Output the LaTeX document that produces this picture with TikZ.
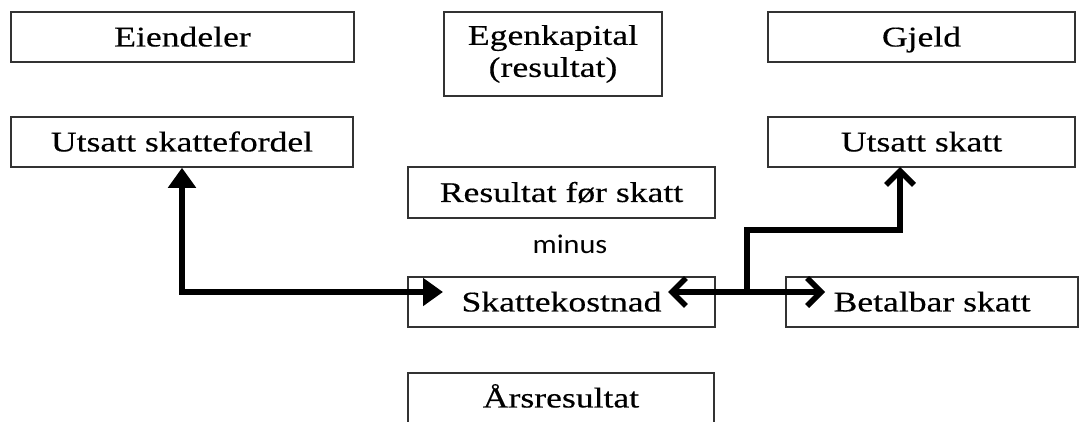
\documentclass[tikz,border=0pt]{standalone}
\usepackage{fontspec}
\setmainfont[FakeStretch=1.25,FakeBold=0.4]{Liberation Serif}
\newfontfamily\minusfont[FakeStretch=1.12]{Carlito}
\usetikzlibrary{arrows.meta}

\begin{document}
\begin{tikzpicture}[x=1pt, y=-1pt,
  box/.style={draw=black!80, line width=1.5pt, rectangle, inner sep=0pt,
    minimum height=50pt, font=\fontsize{28.5}{32}\selectfont,
    text height=18.9pt, text depth=0pt},
  twoline/.style={text height=, text depth=, align=center},
  conn/.style={line width=5.5pt, black, line join=miter},
  solidtip/.style={{Triangle[length=20pt,width=27pt]}-{Triangle[length=20pt,width=27pt]}},
  barbtip/.style={-{Straight Barb[length=14pt,width=28pt]}},
  barbboth/.style={{Straight Barb[length=14pt,width=28pt]}-{Straight Barb[length=14pt,width=28pt]}},
]
\useasboundingbox (0,0) rectangle (1087,421);
\clip (0,0) rectangle (1087,421);

% balance sheet headings
\node[box, minimum width=343pt] (eiend) at (182.5,37) {Eiendeler};
\node[box, twoline, minimum width=218pt, minimum height=84pt] (egenk) at (553,54) {Egenkapital\\(resultat)};
\node[box, minimum width=307pt] (gjeld) at (921.5,37) {Gjeld};

% deferred tax items
\node[box, minimum width=342pt] (usf) at (182,142) {Utsatt skattefordel};
\node[box, minimum width=307pt] (us) at (921.5,142) {Utsatt skatt};

% income statement column
\node[box, minimum width=307pt, minimum height=51pt] (rfs) at (561.5,192.5) {Resultat før skatt};
\node[font=\minusfont\fontsize{27}{30}\selectfont, inner sep=0pt] (minus) at (570,244) {minus};
\node[box, minimum width=307pt] (sk) at (561.5,302) {Skattekostnad};
\node[box, minimum width=292pt] (bb) at (932,302) {Betalbar skatt};
\node[box, minimum width=306pt] (ars) at (561,398) {Årsresultat};

% arrow end points inside the boxes
\coordinate (skl) at (443,292);
\coordinate (skr) at (668,292);
\coordinate (bbl) at (825,292);
\coordinate (j) at (747,292);
\coordinate (bend) at (747,230);
\coordinate (usin) at (900,167);

% connectors
\draw[conn, solidtip] (usf.south) |- (skl);
\draw[conn, barbboth] (skr) -- (bbl);
\draw[conn, barbtip] (j) -- (bend) -| (usin);
\end{tikzpicture}
\end{document}
